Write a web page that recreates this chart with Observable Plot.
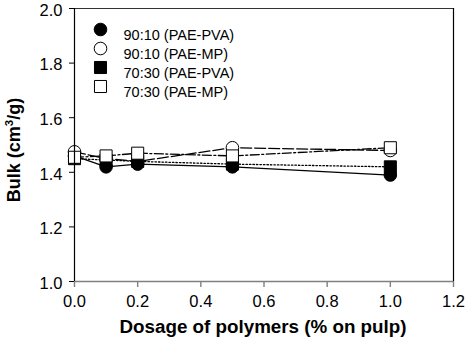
<!DOCTYPE html>
<html>
<head>
<meta charset="utf-8">
<script src="https://cdn.jsdelivr.net/npm/d3@7"></script>
<script src="https://cdn.jsdelivr.net/npm/@observablehq/plot@0.6"></script>
<style>
  html, body { margin: 0; padding: 0; background: #fff; }
  #chart { width: 468px; height: 350px; line-height: 0; }
  #chart svg { display: block; }
</style>
</head>
<body>
<div id="chart"></div>
<script>
const dosage = [0, 0.1, 0.2, 0.5, 1.0];
const pva9010 = [1.46, 1.42, 1.43, 1.42, 1.39];
const mp9010 = [1.475, 1.45, 1.44, 1.49, 1.48];
const pva7030 = [1.45, 1.445, 1.44, 1.43, 1.42];
const mp7030 = [1.455, 1.46, 1.47, 1.46, 1.49];
const seriesNames = ["90:10 (PAE-PVA)", "90:10 (PAE-MP)", "70:30 (PAE-PVA)", "70:30 (PAE-MP)"];
const xTicks = [0, 0.2, 0.4, 0.6, 0.8, 1.0, 1.2];
const yTicks = [1.0, 1.2, 1.4, 1.6, 1.8, 2.0];

const seriesValues = [pva9010, mp9010, pva7030, mp7030];
const styles = [
  {symbol: "circle", fill: "black", r: 6.3, dash: null},
  {symbol: "circle", fill: "white", r: 6.3, dash: "11,3"},
  {symbol: "square", fill: "black", r: 6.8, dash: "1.5,2"},
  {symbol: "square", fill: "white", r: 6.8, dash: "9,2.5,2,2.5"}
];
const data = seriesNames.map((name, i) => dosage.map((x, j) => ({series: name, x, y: seriesValues[i][j]})));

const marks = [];
data.forEach((rows, i) => {
  marks.push(Plot.line(rows, {x: "x", y: "y", stroke: "black", strokeWidth: 1.3, strokeDasharray: styles[i].dash}));
});
data.forEach((rows, i) => {
  marks.push(Plot.dot(rows, {x: "x", y: "y", symbol: styles[i].symbol, r: styles[i].r, fill: styles[i].fill, stroke: "black", strokeWidth: 1}));
});
marks.push(Plot.ruleY([2.0], {stroke: "#333", strokeWidth: 1.2}));
marks.push(Plot.ruleX([1.2], {stroke: "black", strokeWidth: 1.2}));
marks.push(Plot.ruleY([1.0], {stroke: "#808080", strokeWidth: 1.6}));
marks.push(Plot.ruleX([0], {stroke: "black", strokeWidth: 1.2}));
marks.push(Plot.axisX({ticks: xTicks, tickFormat: d3.format(".1f"), tickSize: 6, tickPadding: 8, stroke: "#808080", strokeWidth: 1.4, fill: "black", label: null}));
marks.push(Plot.axisY({ticks: yTicks, tickFormat: d3.format(".1f"), tickSize: 5, tickPadding: 7, stroke: "black", fill: "black", label: null}));
seriesNames.forEach((name, i) => {
  const dy = 21 + i * 19;
  marks.push(Plot.dot([name], {frameAnchor: "top-left", dx: 26, dy, symbol: styles[i].symbol, r: styles[i].r, fill: styles[i].fill, stroke: "black", strokeWidth: 1}));
  marks.push(Plot.text([name], {frameAnchor: "top-left", dx: 49, dy, text: d => d, textAnchor: "start", fontSize: 14.5, fill: "black"}));
});

const chart = Plot.plot({
  width: 468,
  height: 350,
  marginLeft: 74,
  marginTop: 8,
  marginRight: 15,
  marginBottom: 69,
  style: {fontFamily: "Liberation Sans, Arial, sans-serif", fontSize: "16.5px", background: "white", color: "black", display: "block"},
  x: {domain: [0, 1.2]},
  y: {domain: [1.0, 2.0]},
  marks
});

const svg = d3.select(chart);
svg.selectAll('g[aria-label="x-axis tick label"], g[aria-label="y-axis tick label"]').attr("font-size", 16.5);
svg.selectAll('g[aria-label="y-axis tick label"]').each(function() {
  const old = this.getAttribute("transform") || "";
  this.setAttribute("transform", (old + " translate(0,2)").trim());
});
svg.append("text")
  .attr("x", 263).attr("y", 333)
  .attr("text-anchor", "middle")
  .attr("font-size", 18.8).attr("font-weight", "bold")
  .attr("font-family", "Liberation Sans, Arial, sans-serif")
  .text("Dosage of polymers (% on pulp)");
const yl = svg.append("text")
  .attr("transform", "translate(20,150) rotate(-90)")
  .attr("text-anchor", "middle")
  .attr("font-size", 18).attr("font-weight", "bold")
  .attr("font-family", "Liberation Sans, Arial, sans-serif");
yl.append("tspan").text("Bulk (cm");
yl.append("tspan").attr("font-size", 11.5).attr("dy", -7).text("3");
yl.append("tspan").attr("dy", 7).text("/g)");

document.getElementById("chart").appendChild(chart);
</script>
</body>
</html>
